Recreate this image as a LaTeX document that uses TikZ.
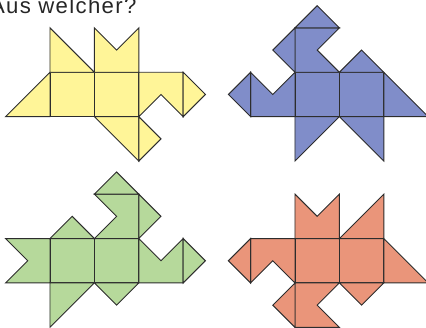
\documentclass[tikz,border=0pt]{standalone}
\usepackage{fontspec}
\setmainfont{Liberation Sans}
\usepackage{tikz}
\usetikzlibrary{positioning}
\definecolor{netline}{RGB}{45,45,45}
\definecolor{netyellow}{RGB}{255,245,152}
\definecolor{netblue}{RGB}{128,141,201}
\definecolor{netgreen}{RGB}{182,217,155}
\definecolor{netred}{RGB}{234,149,122}
\tikzset{>=latex}
\tikzset{face/.style={draw=netline, line width=0.6pt, fill=#1}}

\begin{document}
\begin{tikzpicture}
  \useasboundingbox (0,0) rectangle (9.595,7.387);
  \node[anchor=base west, inner sep=0pt, text=black!85,
        font=\fontsize{14.2}{16}\selectfont\addfontfeature{LetterSpace=6}]
        (title) at (-0.23,7.072) {Aus welcher?};

  % yellow net
  \begin{scope}[shift={(1.126,4.759)}]
    \draw[face=netyellow] (-1,0) -- (0,1) -- (0,0) -- cycle;
    \draw[face=netyellow] (0,0) rectangle (1,1);
    \draw[face=netyellow] (1,0) rectangle (2,1);
    \draw[face=netyellow] (0,1) -- (0,2) -- (1,1) -- cycle;
    \draw[face=netyellow] (1,1) -- (1,2) -- (1.5,1.5) -- (2,2) -- (2,1) -- cycle;
    \draw[face=netyellow] (2,1) -- (3,1) -- (3,0) -- (2.5,0.5) -- (2,0) -- cycle;
    \draw[face=netyellow] (3,1) -- (3.5,0.5) -- (3,0) -- cycle;
    \draw[face=netyellow] (1,0) -- (2,0) -- (2,-1) -- cycle;
    \draw[face=netyellow] (2,0) -- (2.5,-0.5) -- (2,-1) -- cycle;
  \end{scope}

  % blue net
  \begin{scope}[shift={(6.644,4.759)}]
    \draw[face=netblue] (0,0) rectangle (1,1);
    \draw[face=netblue] (1,0) rectangle (2,1);
    \draw[face=netblue] (2,1) -- (3,0) -- (2,0) -- cycle;
    \draw[face=netblue] (1,1) -- (1.5,1.5) -- (2,1) -- cycle;
    \draw[face=netblue] (-1,0) -- (-1,1) -- (-0.5,0.5) -- (0,1) -- (0,0) -- cycle;
    \draw[face=netblue] (-1,1) -- (-1.5,0.5) -- (-1,0) -- cycle;
    \draw[face=netblue] (0,1) -- (0,2) -- (1,2) -- (0.5,1.5) -- (1,1) -- cycle;
    \draw[face=netblue] (0,2) -- (-0.5,1.5) -- (0,1) -- cycle;
    \draw[face=netblue] (0,2) -- (0.5,2.5) -- (1,2) -- cycle;
    \draw[face=netblue] (0,0) -- (1,0) -- (0,-1) -- cycle;
    \draw[face=netblue] (1,0) -- (2,0) -- (2,-1) -- cycle;
  \end{scope}

  % green net
  \begin{scope}[shift={(1.126,1.014)}]
    \draw[face=netgreen] (0,0) rectangle (1,1);
    \draw[face=netgreen] (1,0) rectangle (2,1);
    \draw[face=netgreen] (-1,0) -- (-0.5,0.5) -- (-1,1) -- (0,1) -- (0,0) -- cycle;
    \draw[face=netgreen] (0,1) -- (0.5,1.5) -- (1,1) -- cycle;
    \draw[face=netgreen] (0,0) -- (1,0) -- (0,-1) -- cycle;
    \draw[face=netgreen] (1,1) -- (1.5,1.5) -- (1,2) -- (2,2) -- (2,1) -- cycle;
    \draw[face=netgreen] (2,2) -- (2.5,1.5) -- (2,1) -- cycle;
    \draw[face=netgreen] (1,2) -- (1.5,2.5) -- (2,2) -- cycle;
    \draw[face=netgreen] (1,0) -- (1.5,-0.5) -- (2,0) -- cycle;
    \draw[face=netgreen] (2,0) -- (2,1) -- (2.5,0.5) -- (3,1) -- (3,0) -- cycle;
    \draw[face=netgreen] (3,1) -- (3.5,0.5) -- (3,0) -- cycle;
  \end{scope}

  % red net
  \begin{scope}[shift={(6.644,1.014)}]
    \draw[face=netred] (0,0) rectangle (1,1);
    \draw[face=netred] (1,0) rectangle (2,1);
    \draw[face=netred] (0,1) -- (0,2) -- (0.5,1.5) -- (1,2) -- (1,1) -- cycle;
    \draw[face=netred] (1,1) -- (2,2) -- (2,1) -- cycle;
    \draw[face=netred] (2,1) -- (3,0) -- (2,0) -- cycle;
    \draw[face=netred] (1,0) -- (1.5,-0.5) -- (2,0) -- cycle;
    \draw[face=netred] (0,0) -- (0,-1) -- (1,-1) -- (0.5,-0.5) -- (1,0) -- cycle;
    \draw[face=netred] (0,0) -- (-0.5,-0.5) -- (0,-1) -- cycle;
    \draw[face=netred] (-1,1) -- (0,1) -- (0,0) -- (-0.5,0.5) -- (-1,0) -- cycle;
    \draw[face=netred] (-1,1) -- (-1.5,0.5) -- (-1,0) -- cycle;
  \end{scope}
\end{tikzpicture}
\end{document}
